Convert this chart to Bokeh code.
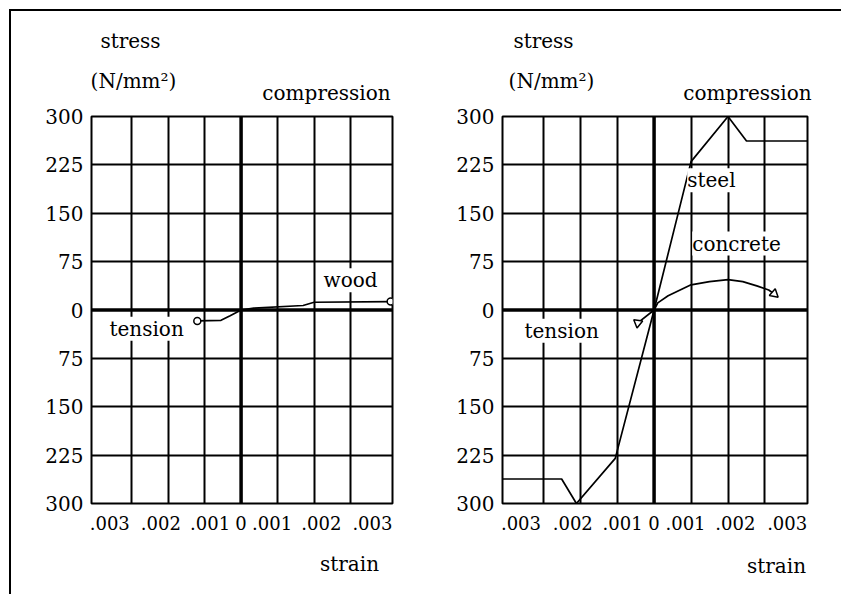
from bokeh.plotting import figure
from bokeh.models import FixedTicker, Span, Label
from bokeh.layouts import row, column
from bokeh.embed import file_html
from bokeh.resources import INLINE

# ---------------- data ----------------
stress_ticks = [-300, -225, -150, -75, 0, 75, 150, 225, 300]
stress_tick_labels = ["300", "225", "150", "75", "0", "75", "150", "225", "300"]
stress_grid = [-225, -150, -75, 75, 150, 225]

strain_grid = [-0.003, -0.002, -0.001, 0.001, 0.002, 0.003]
strain_tick_labels = [".003", ".002", ".001", "0", ".001", ".002", ".003"]
# where the strain labels sit along the axis (spread out as in the drawing)
strain_label_pos = [-0.0036, -0.0022, -0.00085, 0.0, 0.00085, 0.0022, 0.0036]

# wood (left panel)
wood_strain = [-0.0012, -0.00055, -0.0003, 0.0, 0.00035, 0.0017, 0.0020, 0.0041]
wood_stress = [-17, -16, -9, 0, 3, 7, 12, 13]

# steel (right panel)
steel_strain = [-0.0041, -0.0025, -0.0021, -0.00105, 0.0, 0.001, 0.002, 0.0025, 0.00415]
steel_stress = [-262, -262, -300, -230, 0, 230, 300, 262, 262]

# concrete (right panel)
concrete_strain = [-0.00044, 0.0, 0.0001, 0.00038, 0.001, 0.0015, 0.002, 0.0024, 0.0028, 0.0031, 0.00325]
concrete_stress = [-20, 0, 11, 22, 39, 44, 47, 44, 37, 31, 25]

FONT = "DejaVu Serif"
FS = "20px"
HEAD_H = 93
FOOT_H = 51


def make_panel(frame_w, border_left, border_right):
    p = figure(frame_width=frame_w, frame_height=387,
               x_range=(-0.0041, 0.00415), y_range=(-300, 300),
               output_backend="svg", toolbar_location=None,
               min_border_left=border_left, min_border_right=border_right,
               min_border_top=12, min_border_bottom=40)
    p.background_fill_color = "white"
    p.border_fill_color = "white"
    p.outline_line_color = "black"
    p.outline_line_width = 2

    p.xaxis.ticker = FixedTicker(ticks=strain_label_pos)
    p.xaxis.major_label_overrides = dict(zip(strain_label_pos, strain_tick_labels))
    p.yaxis.ticker = FixedTicker(ticks=stress_ticks)
    p.yaxis.major_label_overrides = dict(zip(stress_ticks, stress_tick_labels))
    for ax in (p.xaxis, p.yaxis):
        ax.axis_line_color = None
        ax.major_tick_line_color = None
        ax.minor_tick_line_color = None
        ax.major_tick_in = 0
        ax.major_tick_out = 0
        ax.major_label_text_font = FONT
        ax.major_label_text_color = "black"
    p.xaxis.major_label_text_font_size = "18px"
    p.yaxis.major_label_text_font_size = FS
    p.xaxis.major_label_standoff = 12
    p.yaxis.major_label_standoff = 8

    p.xgrid.ticker = FixedTicker(ticks=strain_grid)
    p.ygrid.ticker = FixedTicker(ticks=stress_grid)
    p.grid.grid_line_color = "black"
    p.grid.grid_line_width = 2
    p.grid.grid_line_alpha = 1

    p.add_layout(Span(location=0, dimension="height", line_color="black", line_width=3.5))
    p.add_layout(Span(location=0, dimension="width", line_color="black", line_width=3.5))
    return p


def text_strip(width, height):
    """Blank strip (pixel coordinates, y downwards) that carries free text."""
    s = figure(width=width, height=height, x_range=(0, width), y_range=(height, 0),
               output_backend="svg", toolbar_location=None, min_border=0)
    s.axis.visible = False
    s.grid.visible = False
    s.outline_line_color = None
    s.background_fill_color = "white"
    s.border_fill_color = "white"
    return s


def add_text(p, x, y, text, bg=False):
    kw = dict(x=x, y=y, text=text, text_font=FONT, text_font_size=FS,
              text_color="black", text_align="center", text_baseline="middle")
    if bg:
        kw.update(background_fill_color="white", background_fill_alpha=1.0)
    p.add_layout(Label(**kw))


# ---------------- left panel: wood ----------------
p1 = make_panel(301, 80, 28)
W1 = 80 + 301 + 28
p1.line(wood_strain, wood_stress, line_color="black", line_width=1.7)
p1.scatter([wood_strain[0], wood_strain[-1]], [wood_stress[0], wood_stress[-1]],
           marker="circle", size=7, fill_color="white", line_color="black", line_width=1.5)
add_text(p1, 0.0030, 46, "wood", bg=True)
add_text(p1, -0.00259, -29, "tension", bg=True)

# ---------------- right panel: steel & concrete ----------------
p2 = make_panel(305, 82, 34)
W2 = 82 + 305 + 34
p2.line(steel_strain, steel_stress, line_color="black", line_width=1.7)
p2.line(concrete_strain, concrete_stress, line_color="black", line_width=1.7)
p2.scatter([concrete_strain[0]], [concrete_stress[0]], marker="triangle", angle=-1.2,
           size=9, fill_color="white", line_color="black", line_width=1.5)
p2.scatter([concrete_strain[-1]], [concrete_stress[-1]], marker="triangle", angle=1.9,
           size=9, fill_color="white", line_color="black", line_width=1.5)
add_text(p2, 0.00155, 201, "steel", bg=True)
add_text(p2, 0.00223, 103, "concrete", bg=True)
add_text(p2, -0.0025, -32, "tension", bg=True)

# ---------------- header / footer text strips (full width) ----------------
W = W1 + W2
head = text_strip(W, HEAD_H)
add_text(head, 119, 29, "stress")
add_text(head, 122, 69, "(N/mm²)")
add_text(head, 315, 81, "compression")
add_text(head, 532, 29, "stress")
add_text(head, 540, 69, "(N/mm²)")
add_text(head, 736, 81, "compression")

foot = text_strip(W, FOOT_H)
add_text(foot, 338, 20, "strain")
add_text(foot, 765, 22, "strain")

layout = column(head, row(p1, p2), foot,
                styles={"border-left": "2px solid black",
                        "border-top": "2px solid black",
                        "margin-left": "9px", "margin-top": "9px",
                        "background-color": "white"})

open("out.html", "w").write(file_html(layout, INLINE))
